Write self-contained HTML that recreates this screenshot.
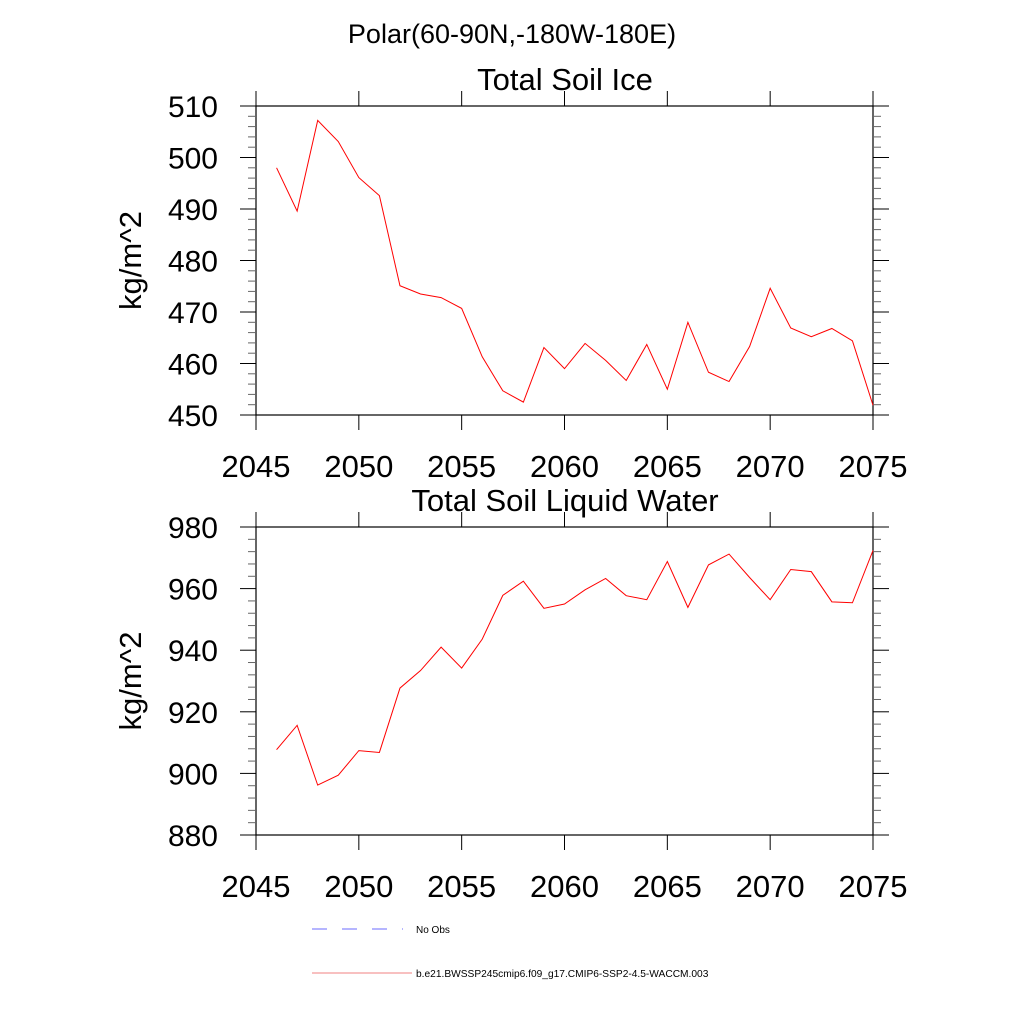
<!DOCTYPE html>
<html><head><meta charset="utf-8"><style>
body{margin:0;background:#fff;}
svg{display:block;font-family:"Liberation Sans",sans-serif;}
</style></head><body>
<svg id="c" width="1024" height="1024" viewBox="0 0 1024 1024">
<text x="512" y="43" text-anchor="middle" font-size="27">Polar(60-90N,-180W-180E)</text>
<g id="p1"></g>
<g id="p2"></g>
<g>
<line x1="312" y1="929" x2="403" y2="929" stroke="#6b6bff" stroke-width="1" stroke-dasharray="15,15"/>
<text x="416" y="933" font-size="10">No Obs</text>
<line x1="312" y1="973" x2="412" y2="973" stroke="#f08080" stroke-width="1"/>
<text x="416" y="977" font-size="10.2">b.e21.BWSSP245cmip6.f09_g17.CMIP6-SSP2-4.5-WACCM.003</text>
</g>
</svg>
<script>
const years=[2046,2047,2048,2049,2050,2051,2052,2053,2054,2055,2056,2057,2058,2059,2060,2061,2062,2063,2064,2065,2066,2067,2068,2069,2070,2071,2072,2073,2074,2075];
const iceValues=[498.0,489.6,507.2,503.1,496.1,492.6,475.1,473.5,472.8,470.7,461.3,454.7,452.5,463.1,459.0,463.9,460.6,456.7,463.7,455.0,468.0,458.3,456.5,463.3,474.6,466.9,465.2,466.8,464.4,451.9];
const liquidValues=[907.7,915.6,896.2,899.4,907.4,906.8,927.7,933.4,941.0,934.2,943.6,957.8,962.4,953.6,955.0,959.6,963.3,957.7,956.4,968.8,953.9,967.7,971.2,963.6,956.4,966.2,965.5,955.7,955.4,972.4];
const xTicks=[2045,2050,2055,2060,2065,2070,2075];
const iceTicks=[450,460,470,480,490,500,510];
const liquidTicks=[880,900,920,940,960,980];
const NS="http://www.w3.org/2000/svg";
function mk(p,t,a){const e=document.createElementNS(NS,t);for(const k in a)e.setAttribute(k,a[k]);p.appendChild(e);return e;}
function panel(g,title,vals,ticks,minorStep,top,bot){
  const L=256,R=873,x0=2045,x1=2075,y0=ticks[0],y1=ticks[ticks.length-1];
  const X=v=>L+(v-x0)/(x1-x0)*(R-L);
  const Y=v=>bot-(v-y0)/(y1-y0)*(bot-top);
  let t=mk(g,'text',{x:565,y:top-16,'text-anchor':'middle','font-size':31});t.textContent=title;
  
  
  let r=mk(g,'rect',{x:L,y:top,width:R-L,height:bot-top,fill:'none',stroke:'#000','stroke-width':1.2});
  
  
  for(let v=y0;v<=y1+1e-9;v+=minorStep){
    const isMaj=ticks.some(k=>Math.abs(k-v)<1e-6);const len=isMaj?16:8;const y=Y(v);const col=isMaj?'#000':'#666';
    mk(g,'line',{x1:L-len,y1:y,x2:L,y2:y,stroke:col,'stroke-width':1});
    mk(g,'line',{x1:R,y1:y,x2:R+len,y2:y,stroke:col,'stroke-width':1});
  }
  ticks.forEach(v=>{const tt=mk(g,'text',{x:218,y:Y(v)+11,'text-anchor':'end','font-size':30});tt.textContent=v;
    
    });
  xTicks.forEach(v=>{const x=X(v);
    mk(g,'line',{x1:x,y1:top-15,x2:x,y2:top,stroke:'#000','stroke-width':1});
    mk(g,'line',{x1:x,y1:bot,x2:x,y2:bot+15,stroke:'#000','stroke-width':1});});
  xTicks.forEach(v=>{const tt=mk(g,'text',{x:X(v),y:bot+62,'text-anchor':'middle','font-size':31});tt.textContent=v;
    
    });
  const yl=mk(g,'text',{x:0,y:0,'text-anchor':'middle','font-size':31,transform:`translate(141,${(top+bot)/2}) rotate(-90)`});yl.textContent='kg/m^2';
  
  
  const pl=mk(g,'polyline',{points:vals.map((v,i)=>X(years[i])+','+Y(v)).join(' '),fill:'none',stroke:'#ff0000','stroke-width':1});
  
  
}
panel(document.getElementById('p1'),'Total Soil Ice',iceValues,iceTicks,2,106,415);
panel(document.getElementById('p2'),'Total Soil Liquid Water',liquidValues,liquidTicks,4,527,835);
</script>
</body></html>
